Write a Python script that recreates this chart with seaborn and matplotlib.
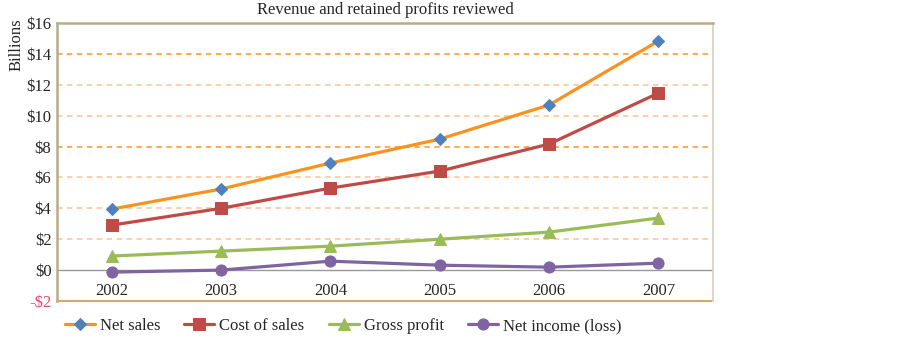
import matplotlib.pyplot as plt
import pandas as pd
import seaborn as sns

sns.set_style("white")
plt.rcParams['font.family'] = ['Liberation Serif', 'DejaVu Serif']
plt.rcParams['font.size'] = 12

years = [2002, 2003, 2004, 2005, 2006, 2007]
net_sales = [3.95, 5.25, 6.93, 8.48, 10.69, 14.83]
cost_of_sales = [2.91, 4.0, 5.31, 6.41, 8.16, 11.46]
gross_profit = [0.91, 1.23, 1.55, 2.0, 2.46, 3.37]
net_income = [-0.13, 0.0, 0.58, 0.32, 0.19, 0.45]

series = [
    ("Net sales", net_sales, "#F7931E", "#4F81BD", "D", 6.5),
    ("Cost of sales", cost_of_sales, "#BE4B48", "#BE4B48", "s", 8),
    ("Gross profit", gross_profit, "#9BBB59", "#9BBB59", "^", 8),
    ("Net income (loss)", net_income, "#8064A2", "#8064A2", "o", 8),
]

fig = plt.figure(figsize=(9.03, 3.39), dpi=100)
ax = fig.add_axes([57 / 903, 1 - 301 / 339, (713 - 57) / 903, (301 - 23) / 339])

# gridlines
for v in [2, 4, 6, 10, 12]:
    ax.axhline(v, color="#FFC9A3", ls=(0, (3, 2.5)), lw=1.3, zorder=0)
for v in [8, 14]:
    ax.axhline(v, color="#FFA24A", ls=(0, (3, 2.5)), lw=1.3, zorder=0)
ax.axhline(0, color="#999999", lw=1.0, zorder=0)

for name, vals, lc, mc, mk, ms in series:
    df = pd.DataFrame({"year": years, "value": vals})
    sns.lineplot(data=df, x="year", y="value", ax=ax, color=lc, lw=2.3,
                 marker=mk, markersize=ms, markerfacecolor=mc,
                 markeredgecolor=mc, label=name)

ax.set_xlim(2001.5, 2007.5)
ax.set_ylim(-2, 16)
ax.set_yticks(range(-2, 17, 2))
ax.set_yticklabels(["-$2"] + [f"${v}" for v in range(0, 17, 2)])
ax.get_yticklabels()[0].set_color("#E8436B")
ax.set_xticks(years)
ax.tick_params(axis="x", length=0, pad=-13)
ax.tick_params(axis="y", length=0, pad=4)
ax.set_xlabel("")
ax.set_ylabel("")

for s in ["left", "top"]:
    ax.spines[s].set_color("#B8AD8A")
    ax.spines[s].set_linewidth(1.8)
ax.spines["right"].set_color("#D8D0B8")
ax.spines["right"].set_linewidth(1.2)
ax.spines["bottom"].set_color("#D9A86A")
ax.spines["bottom"].set_linewidth(1.5)
ax.spines["bottom"].set_linestyle((0, (2, 1)))

fig.text(385 / 903, 1 - 10 / 339, "Revenue and retained profits reviewed",
         ha="center", va="center", fontsize=12)
fig.text(17 / 903, 1 - 45 / 339, "Billions", rotation=90,
         ha="center", va="center", fontsize=12)

ax.legend(loc="center left", bbox_to_anchor=(58 / 903, 1 - 326 / 339),
          bbox_transform=fig.transFigure, ncol=4, frameon=False,
          handlelength=1.8, columnspacing=1.45, handletextpad=0.3,
          fontsize=12, borderaxespad=0)

fig.savefig("out.png", dpi=100)
